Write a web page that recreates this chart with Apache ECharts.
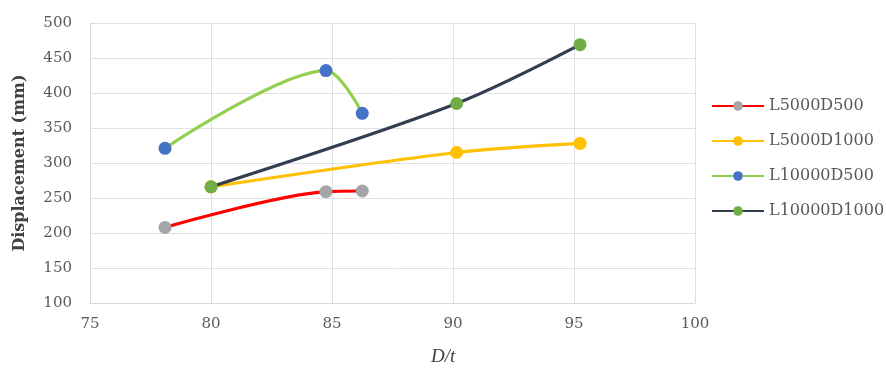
<!DOCTYPE html>
<html><head><meta charset="utf-8">
<script src="https://cdn.jsdelivr.net/npm/echarts@6/dist/echarts.min.js"></script>
<style>html,body{margin:0;padding:0;background:#fff}#c{width:886px;height:371px}</style>
</head><body><div id="c"></div>
<script>
const seriesNames = ['L5000D500', 'L5000D1000', 'L10000D500', 'L10000D1000'];
const xL5000D500 = [78.1, 84.75, 86.25];
const yL5000D500 = [208, 259, 260];
const xL5000D1000 = [80.0, 90.15, 95.25];
const yL5000D1000 = [266, 315, 328];
const xL10000D500 = [78.1, 84.75, 86.25];
const yL10000D500 = [321, 432, 371];
const xL10000D1000 = [80.0, 90.15, 95.25];
const yL10000D1000 = [266, 385, 469];
const xTicks = [75, 80, 85, 90, 95, 100];
const yTicks = [100, 150, 200, 250, 300, 350, 400, 450, 500];

const lineColors = ['#ff0000', '#ffc000', '#92d050', '#333f50'];
const markerColors = ['#a5a5a5', '#ffc000', '#4472c4', '#70ad47'];
const xs = [xL5000D500, xL5000D1000, xL10000D500, xL10000D1000];
const ys = [yL5000D500, yL5000D1000, yL10000D500, yL10000D1000];
const FONT = 'DejaVu Serif';

const chart = echarts.init(document.getElementById('c'));
chart.setOption({
  animation: false,
  textStyle: { fontFamily: FONT },
  title: {
    text: 'D/t', left: 426, top: 342,
    textStyle: { fontStyle: 'italic', fontWeight: 'normal', fontSize: 19, color: '#404040', fontFamily: 'Liberation Serif' }
  },
  grid: { left: 90, right: 191, top: 23, bottom: 68 },
  xAxis: {
    type: 'value', min: xTicks[0], max: xTicks[xTicks.length - 1], interval: 5,
    axisLine: { lineStyle: { color: '#d9d9d9' } },
    axisTick: { show: false },
    axisLabel: { color: '#595959', fontSize: 15, margin: 14, fontFamily: FONT },
    splitLine: { show: true, lineStyle: { color: '#e0e0e0' } }
  },
  yAxis: {
    type: 'value', min: yTicks[0], max: yTicks[yTicks.length - 1], interval: 50,
    name: 'Displacement (mm)', nameLocation: 'middle', nameGap: 62,
    nameTextStyle: { fontWeight: 'bold', fontSize: 16, color: '#404040', fontFamily: FONT },
    axisLine: { show: true, lineStyle: { color: '#d9d9d9' } },
    axisTick: { show: false },
    axisLabel: { color: '#595959', fontSize: 15, margin: 18, fontFamily: FONT },
    splitLine: { show: true, lineStyle: { color: '#e0e0e0' } }
  },
  legend: {
    orient: 'vertical', left: 706, top: 93, itemGap: 19,
    itemWidth: 52, itemHeight: 12,
    textStyle: { color: '#595959', fontSize: 16, fontFamily: FONT },
    data: seriesNames
  },
  series: seriesNames.map((n, i) => ({
    name: n, type: 'line', smooth: 0.3,
    symbol: 'circle', symbolSize: 13,
    lineStyle: { color: lineColors[i], width: 3.2 },
    itemStyle: { color: markerColors[i] },
    data: xs[i].map((x, j) => [x, ys[i][j]])
  }))
});
</script></body></html>
